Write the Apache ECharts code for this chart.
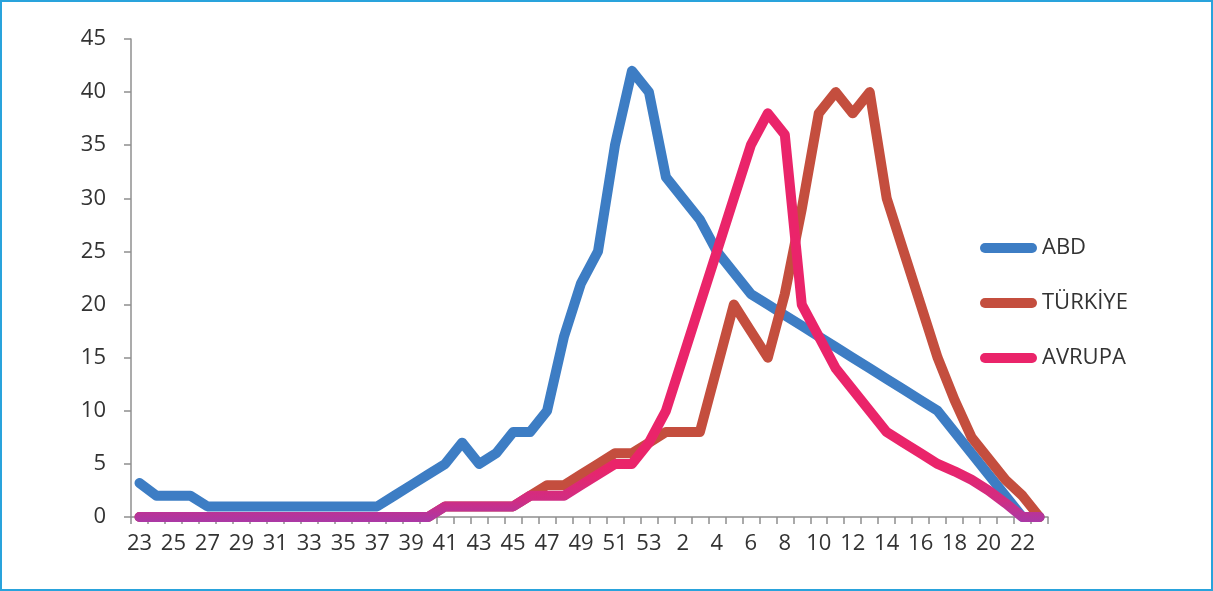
<!DOCTYPE html>
<html>
<head>
<meta charset="utf-8">
<script src="https://cdn.jsdelivr.net/npm/echarts@6/dist/echarts.min.js"></script>
<style>
html,body{margin:0;padding:0;background:#fff;}
#wrap{position:relative;width:1213px;height:591px;}
#chart{position:absolute;left:0;top:0;width:1213px;height:591px;}
#frame{position:absolute;left:0;top:0;width:1213px;height:591px;box-sizing:border-box;border:2px solid #29a3dc;pointer-events:none;}
</style>
</head>
<body>
<div id="wrap"><div id="chart"></div><div id="frame"></div></div>
<script>
const weeks = ['23','24','25','26','27','28','29','30','31','32','33','34','35','36','37','38','39','40','41','42','43','44','45','46','47','48','49','50','51','52','53',
  '1','2','3','4','5','6','7','8','9','10','11','12','13','14','15','16','17','18','19','20','21','22','23'];
const abd = [3.2,2,2,2,1,1,1,1,1,1,1,1,1,1,1,2,3,4,5,7,5,6,8,8,10,17,22,25,35,42,40,
  32,30,28,25,23,21,20,19,18,17,16,15,14,13,12,11,10,8,6,4,2,0,0];
const turkiye = [0,0,0,0,0,0,0,0,0,0,0,0,0,0,0,0,0,0,1,1,1,1,1,2,3,3,4,5,6,6,7,
  8,8,8,14,20,17.5,15,21,29,38,40,38,40,30,25,20,15,11,7.5,5.5,3.5,2,0];
const avrupa = [0,0,0,0,0,0,0,0,0,0,0,0,0,0,0,0,0,0,1,1,1,1,1,2,2,2,3,4,5,5,7,
  10,15,20,25,30,35,38,36,20,17,14,12,10,8,7,6,5,4.3,3.5,2.5,1.3,0,0];
const yTicks = {min:0, max:45, interval:5};

const avMax = Math.max(...avrupa);
const off = v => Math.min(1, Math.max(0, (avMax - v) / avMax));
const avGradient = {
  type:'linear', x:0, y:0, x2:0, y2:1,
  colorStops:[
    {offset:0, color:'#ea246a'},
    {offset:off(5), color:'#ea246a'},
    {offset:off(2), color:'#d02d83'},
    {offset:1, color:'#aa38a6'}
  ]
};

const font = '"Open Sans", "Liberation Sans", sans-serif';
const pill = 'path://M5,0 L52,0 A5,5 0 0 1 52,10 L5,10 A5,5 0 0 1 5,0 Z';

const chart = echarts.init(document.getElementById('chart'), null, {renderer:'canvas'});
chart.setOption({
  animation:false,
  backgroundColor:'#ffffff',
  grid:{left:131, right:165, top:39, bottom:74, containLabel:false},
  legend:{
    orient:'vertical', left:975, top:231, itemWidth:57, itemHeight:10, itemGap:31,
    icon:pill,
    textStyle:{fontFamily:font, fontSize:22, color:'#333333', lineHeight:24},
    data:[
      {name:'ABD', itemStyle:{color:'#3d7dc4'}},
      {name:'TÜRKİYE', itemStyle:{color:'#c44e3e'}},
      {name:'AVRUPA', itemStyle:{color:'#ea246a'}}
    ]
  },
  xAxis:{
    type:'category', data:weeks, boundaryGap:true,
    axisLine:{lineStyle:{color:'#8f8f8f', width:1.5}},
    axisTick:{show:true, interval:0, length:7, lineStyle:{color:'#8f8f8f', width:1.5}},
    axisLabel:{interval:1, margin:16, fontFamily:font, fontSize:22, color:'#333333'},
    splitLine:{show:false}
  },
  yAxis:{
    type:'value', min:yTicks.min, max:yTicks.max, interval:yTicks.interval,
    axisLine:{show:true, lineStyle:{color:'#8f8f8f', width:1.5}},
    axisTick:{show:true, length:7, lineStyle:{color:'#8f8f8f', width:1.5}},
    axisLabel:{margin:25, fontFamily:font, fontSize:22, color:'#333333'},
    splitLine:{show:false}
  },
  series:[
    {name:'ABD', type:'line', data:abd, symbol:'none', color:'#3d7dc4',
     lineStyle:{width:10, color:'#3d7dc4', cap:'round', join:'round'}},
    {name:'TÜRKİYE', type:'line', data:turkiye, symbol:'none', color:'#c44e3e',
     lineStyle:{width:10, color:'#c44e3e', cap:'round', join:'round'}},
    {name:'AVRUPA', type:'line', data:avrupa, symbol:'none', color:'#ea246a',
     lineStyle:{width:10, color:avGradient, cap:'round', join:'round'}}
  ]
});
</script>
</body>
</html>
